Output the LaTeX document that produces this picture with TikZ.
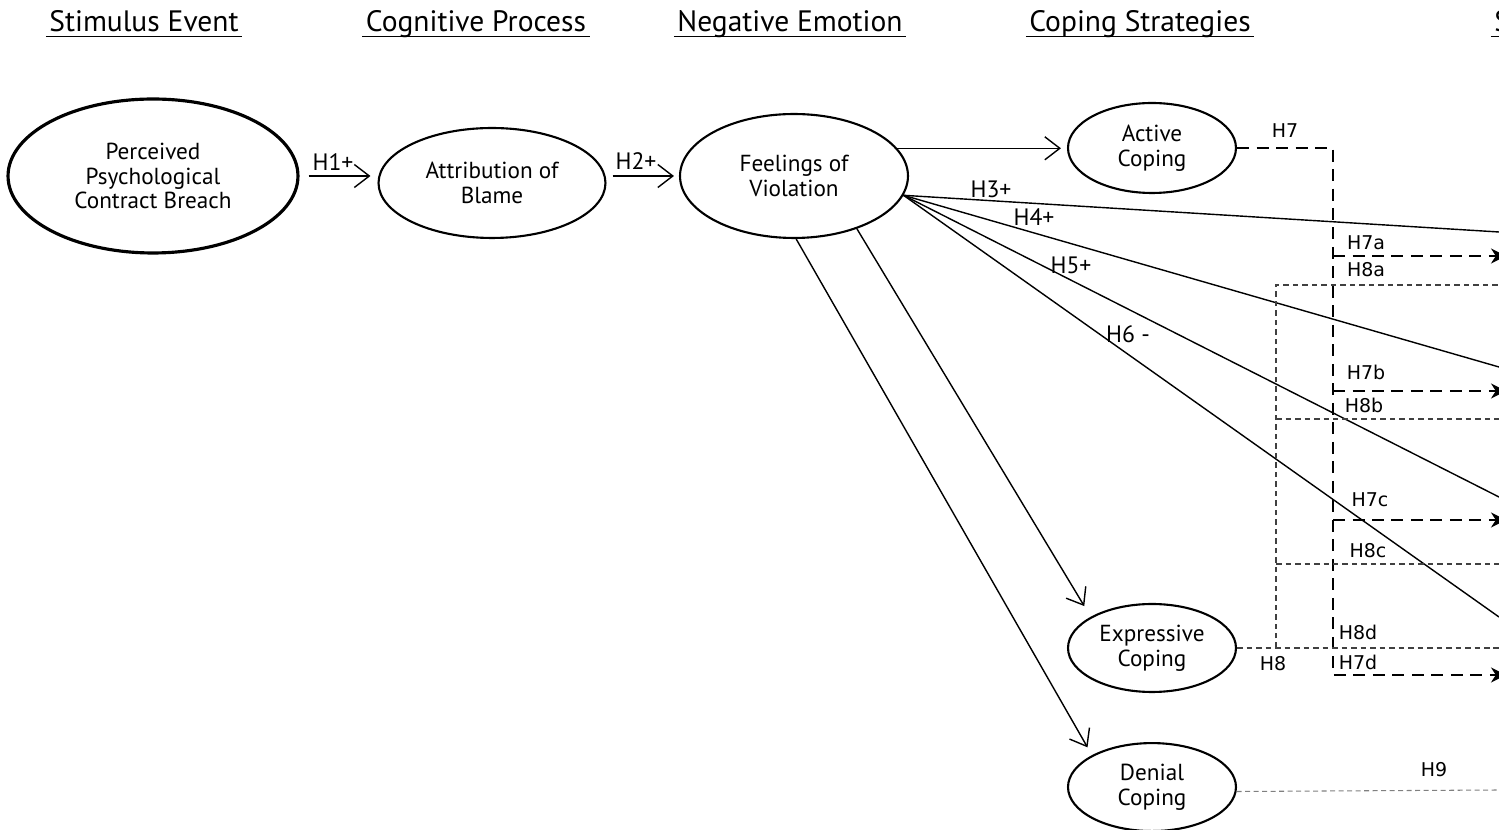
\documentclass[tikz,border=0pt]{standalone}
\usepackage{fontspec}
\setmainfont{PT Sans}
\newfontfamily\tagfont{DejaVu Sans}
\usepackage{tikz}
\usetikzlibrary{arrows.meta, positioning, calc, shapes.geometric}
\newcommand{\uhead}[1]{\setbox0\hbox{#1\kern2pt}\rlap{\kern-2pt\rule[-2.8pt]{\dimexpr\wd0+2pt\relax}{0.7pt}}#1}

\begin{document}
\begin{tikzpicture}[x=0.02cm, y=-0.02cm,
  oval/.style={ellipse, draw, line width=1.2pt, align=center, inner sep=0pt, font=\fontsize{13.2}{14}\selectfont},
  head/.style={anchor=base, font=\fontsize{16.8}{19}\selectfont},
  arr/.style={-{Straight Barb[length=0.3cm, width=0.46cm]}, line width=0.8pt},
  dart/.style={-{Stealth[length=0.3cm, width=0.3cm]}},
  tag/.style={font=\fontsize{13.5}{15}\selectfont},
  tagd/.style={font=\tagfont\fontsize{10.8}{12}\selectfont},
  bigdash/.style={line width=1.3pt, dash pattern=on 0.24cm off 0.15cm},
  smalldash/.style={line width=0.6pt, black!75, dash pattern=on 0.11cm off 0.08cm},
  greydash/.style={line width=0.6pt, black!50, dash pattern=on 0.1cm off 0.07cm}]
  \clip (0,0) rectangle (1499,830);
  % column headings
  \node[head] (stim) at (144,32) {\uhead{Stimulus Event}};
  \node[head] (cogn) at (476,32) {\uhead{Cognitive Process}};
  \node[head] (emot) at (790,32) {\uhead{Negative Emotion}};
  \node[head] (cope) at (1140,32) {\uhead{Coping Strategies}};
  \node[head, anchor=base west, inner sep=0pt] (next) at (1494,32) {\uhead{S}};
  % constructs
  \node[oval, line width=1.8pt, minimum width=5.8cm, minimum height=3.08cm] (breach) at (153,176) {Perceived\\Psychological\\Contract Breach};
  \node[oval, minimum width=4.54cm, minimum height=2.2cm] (blame) at (492,183) {Attribution of\\Blame};
  \node[oval, minimum width=4.56cm, minimum height=2.48cm] (violation) at (794,176) {Feelings of\\Violation};
  \node[oval, minimum width=3.36cm, minimum height=1.8cm] (active) at (1152,148) {Active\\Coping};
  \node[oval, minimum width=3.36cm, minimum height=1.76cm] (expressive) at (1152,648) {Expressive\\Coping};
  \node[oval, minimum width=3.36cm, minimum height=1.76cm, below=0.98cm of expressive] (denial) {Denial\\Coping};
  % main paths
  \draw[arr, shorten <=0.18cm, shorten >=0.14cm] (breach.east) -- (breach.east -| blame.west);
  \draw[arr, shorten <=0.12cm, shorten >=0.1cm] (violation.west -| blame.east) -- (violation.west);
  \draw[arr, shorten >=0.12cm] (violation.15) -- (violation.15 -| active.west);
  \draw[arr, shorten >=0.25cm] (violation.-40) -- (expressive.153);
  \draw[arr, shorten >=0.18cm] (violation.-88) -- (denial.152);
  % paths leaving the frame
  \coordinate (fan) at (violation.-10);
  \coordinate (r3) at (1499,232);
  \coordinate (r4) at (1499,367);
  \coordinate (r5) at (1499,497);
  \coordinate (r6) at (1499,617);
  \foreach \r in {r3,r4,r5,r6}
    \draw[line width=0.8pt] (fan) -- (\r);
  % moderation by active coping (H7)
  \coordinate (spine) at (1333,0);
  \coordinate (o7a) at (1506,256);
  \coordinate (o7b) at (1506,391);
  \coordinate (o7c) at (1506,520);
  \coordinate (o7d) at (1506,675);
  \draw[bigdash, dart] (active.east) -| (o7d -| spine) -- (o7d);
  \foreach \p in {o7a,o7b,o7c}
    \draw[bigdash, dart] (\p -| spine) -- (\p);
  % moderation by expressive coping (H8)
  \coordinate (h8x) at (1276,0);
  \coordinate (o8a) at (1499,285);
  \coordinate (o8b) at (1499,419);
  \coordinate (o8c) at (1499,564);
  \coordinate (o8d) at (1499,650);
  \draw[smalldash] (expressive.east) -- (expressive.east -| o8d);
  \draw[smalldash] (expressive.east -| h8x) |- (o8a);
  \draw[smalldash] (o8b -| h8x) -- (o8b);
  \draw[smalldash] (o8c -| h8x) -- (o8c);
  % denial coping (H9)
  \coordinate (o9) at (1499,790);
  \draw[greydash] (denial.-3) -- (o9);
  % hypothesis labels
  \node[tag] (t1) at (333,162) {H1+};
  \node[tag] (t2) at (636,161) {H2+};
  \node[tag] (t3) at (991,189) {H3+};
  \node[tag] (t4) at (1034,217) {H4+};
  \node[tag] (t5) at (1071,265) {H5+};
  \node[tag] (t6) at (1128,334) {H6 -};
  \node[tagd] (t7) at (1285,131) {H7};
  \node[tagd] (t7a) at (1366,243) {H7a};
  \node[tagd] (t8a) at (1366,270) {H8a};
  \node[tagd] (t7b) at (1366,372) {H7b};
  \node[tagd] (t8b) at (1364,405) {H8b};
  \node[tagd] (t7c) at (1370,500) {H7c};
  \node[tagd] (t8c) at (1368,551) {H8c};
  \node[tagd] (t8d) at (1358,632) {H8d};
  \node[tagd] (t7d) at (1358,662) {H7d};
  \node[tagd] (t8) at (1273,664) {H8};
  \node[tagd] (t9) at (1434,770) {H9};
\end{tikzpicture}
\end{document}
